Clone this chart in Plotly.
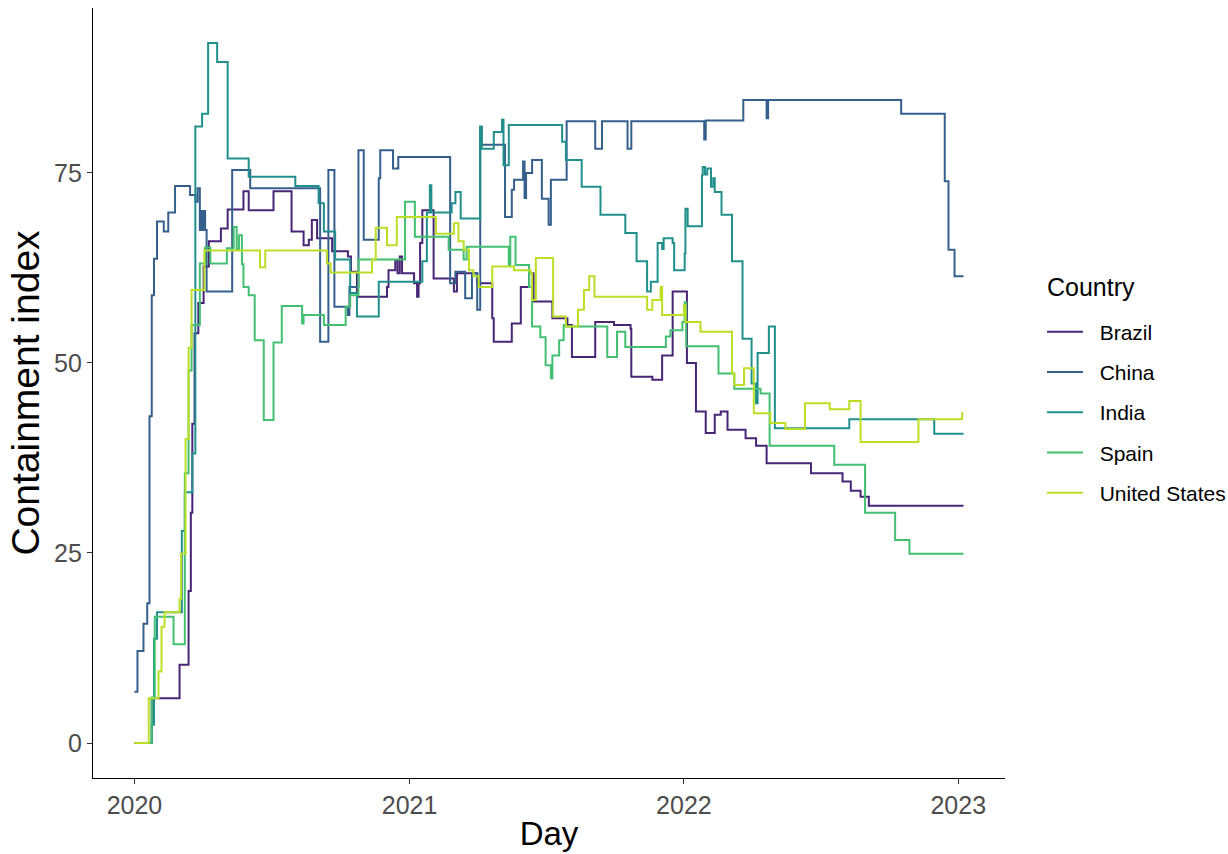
import pandas as pd
import plotly.graph_objects as go

START = pd.Timestamp("2020-01-01")

countries = ["Brazil", "China", "India", "Spain", "United States"]
colors = ["#482576", "#35608D", "#21908C", "#43BF71", "#BBDF27"]

# day offsets since 2020-01-01 where the index changes, and the new value
brazil_day = [0, 23, 60, 72, 75, 77, 80, 85, 92, 99, 115, 124, 145, 152, 185, 209, 225, 232, 236, 243,
              263, 284, 288, 296, 336, 338, 347, 350, 353, 356, 372, 376, 378, 380, 383, 398, 425, 429,
              456, 476, 478, 502, 514, 525, 531, 556, 576, 582, 613, 638, 660, 661, 689, 702, 716, 735,
              747, 760, 772, 780, 789, 813, 827, 841, 900, 942, 953, 966, 977, 1103]
brazil_val = [0, 5.9, 10.3, 20, 30.3, 42, 53.9, 57.9, 62.7, 66, 67.7, 70.2, 72.6, 70.1, 72.6, 67.3, 65.5,
              66.2, 68.8, 66.4, 64.7, 64, 62, 58.7, 60, 62.2, 63.5, 61.8, 64, 61.8, 60.5, 58.7, 60.5, 65.8,
              70.1, 61.1, 59.4, 61.8, 60.5, 55.9, 52.8, 55.2, 60, 61.8, 58.1, 55.9, 55, 50.8, 55.4, 55,
              54.5, 48.2, 47.8, 51, 59.4, 50, 43.6, 40.8, 43.2, 43.6, 41.2, 40.1, 39.1, 36.8, 35.5, 34.4,
              33.2, 32.4, 31.2, 31.2]

china_day = [0, 4, 12, 17, 20, 23, 26, 30, 39, 45, 54, 74, 81, 84, 87, 88, 90, 92, 94, 96, 130, 154,
             247, 258, 266, 284, 286, 298, 305, 325, 327, 344, 351, 420, 427, 440, 449, 456, 460, 462,
             493, 502, 505, 517, 519, 521, 529, 542, 551, 554, 575, 613, 622, 656, 661, 758, 760, 810,
             841, 843, 1020, 1078, 1083, 1091, 1103]
china_val = [6.75, 12.1, 15.7, 18.4, 43, 58.9, 63.7, 68.6, 67.3, 69.8, 73.3, 72.1, 71.2, 73, 67.5, 70,
             67.5, 70, 67.5, 59.4, 75.4, 73, 52.8, 75.4, 57.4, 56.3, 60, 78, 66.2, 74.3, 78, 75.6, 77.1,
             60.5, 62, 58.5, 61.8, 57, 81, 78.7, 69.2, 72.8, 74.1, 76.5, 71.7, 75, 76.7, 71.6, 68.2, 74.1,
             81.8, 78.2, 81.8, 78.2, 81.8, 79.4, 81.9, 84.6, 82.2, 84.6, 82.8, 73.9, 64.9, 61.4, 61.4]

india_day = [0, 23, 26, 30, 63, 67, 77, 81, 90, 98, 110, 124, 152, 214, 245, 252, 267, 287, 296, 325,
             383, 389, 393, 395, 422, 427, 434, 460, 462, 478, 489, 491, 498, 569, 574, 595, 620, 653,
             668, 682, 687, 696, 702, 704, 716, 718, 732, 733, 736, 755, 756, 759, 762, 767, 770, 772,
             781, 795, 809, 821, 827, 829, 844, 852, 951, 1064, 1103]
india_val = [0, 2.4, 13.7, 17.2, 27.9, 33, 38.1, 81.1, 82.8, 92.1, 89.6, 76.9, 74.5, 73.3, 71, 67.3, 63.6,
             59.2, 56.1, 60.7, 63.4, 69.8, 73.4, 69.8, 71, 72.5, 69, 81.1, 78.2, 80.4, 82, 76, 81.3, 79.1,
             76.7, 73.2, 69.5, 67.1, 63.4, 59.4, 60.7, 65.8, 65, 66.4, 65.8, 62.2, 64.4, 70.3, 68, 74.7,
             75.8, 74.8, 75.6, 73.2, 74.3, 72.5, 69.5, 63.4, 53.2, 47.3, 44.7, 51.3, 54.8, 41.4, 42.6,
             40.7, 40.7]

spain_day = [0, 23, 27, 52, 67, 72, 76, 87, 94, 101, 123, 132, 136, 139, 143, 145, 152, 160, 172, 185,
             196, 223, 225, 252, 281, 287, 298, 360, 373, 418, 438, 442, 498, 500, 507, 525, 529, 540,
             547, 554, 556, 565, 571, 574, 629, 642, 653, 707, 713, 729, 732, 734, 777, 798, 833, 845,
             931, 972, 1012, 1031, 1103]
spain_val = [0, 6, 16.6, 13, 35.5, 49, 55, 63.1, 65.2, 63.1, 65.1, 67.9, 65, 66.8, 63, 60, 58.9, 53,
             42.5, 52.7, 57.5, 55.2, 56.3, 55, 57.4, 58.9, 63.6, 71.2, 66.6, 64.9, 63.6, 65.3, 62.9, 66.6,
             62.9, 60, 54.8, 53.4, 49.7, 48, 51, 53, 55, 54.8, 50.8, 54.1, 52.1, 53.5, 54.3, 55.4, 58,
             52.2, 48.6, 46.6, 46, 39.1, 36.6, 30.3, 26.7, 24.9, 24.9]

us_day = [0, 19, 32, 36, 40, 60, 62, 68, 72, 76, 93, 167, 174, 256, 261, 316, 321, 336, 349, 401, 425,
          431, 438, 445, 451, 458, 476, 505, 527, 529, 534, 557, 574, 590, 598, 605, 612, 682, 689, 700,
          702, 731, 733, 753, 795, 798, 811, 824, 846, 866, 892, 925, 951, 966, 1043, 1101, 1103]
us_val = [0, 5.9, 9.4, 15.3, 17.2, 18.9, 24.9, 40, 52, 59.6, 64.8, 62.6, 64.8, 63.1, 61.9, 63.6, 67.8,
          65.5, 69.2, 67, 68.4, 66, 64.9, 62.2, 61.4, 60, 62.7, 62.2, 61.8, 58.3, 63.8, 56.1, 54.8, 57,
          59.6, 61.4, 58.7, 57, 58.3, 60, 56.3, 57.6, 55.4, 54.1, 48.6, 47.1, 49.3, 43.4, 42.1, 41.3,
          44.7, 43.9, 45, 39.6, 42.6, 43.4, 43.4]

series_days = [brazil_day, china_day, india_day, spain_day, us_day]
series_vals = [brazil_val, china_val, india_val, spain_val, us_val]

x_tick_years = ["2020", "2021", "2022", "2023"]
y_ticks = [0, 25, 50, 75]

FONT = "Liberation Sans, Arial, Helvetica, sans-serif"
PAD = "\u00a0\u00a0"

fig = go.Figure()
for name, col, d, v in zip(countries, colors, series_days, series_vals):
    dates = START + pd.to_timedelta(d, unit="D")
    fig.add_trace(go.Scatter(
        x=dates, y=v, mode="lines", name=PAD + name, legendgroup=name,
        line=dict(color=col, width=2, shape="hv"),
    ))

all_days = [x for d in series_days for x in d]
all_vals = [x for v in series_vals for x in v]
dspan = max(all_days) - min(all_days)
vspan = max(all_vals) - min(all_vals)
xr = [START + pd.Timedelta(days=min(all_days) - 0.05 * dspan),
      START + pd.Timedelta(days=max(all_days) + 0.05 * dspan)]
yr = [min(all_vals) - 0.05 * vspan, max(all_vals) + 0.05 * vspan]

fig.update_layout(
    width=1228, height=854,
    margin=dict(l=93, r=223, t=8, b=76),
    paper_bgcolor="white", plot_bgcolor="white",
    font=dict(family=FONT, color="black"),
    showlegend=True,
    legend=dict(
        font=dict(size=21, color="black"),
        xref="container", yref="container",
        x=0.8485, xanchor="left", y=0.517, yanchor="middle",
        tracegroupgap=10, itemwidth=36,
    ),
    annotations=[dict(
        text="Country", xref="paper", yref="paper",
        x=(1045 - 93) / 912, y=(778 - 287) / 770, xanchor="left", yanchor="middle",
        showarrow=False, font=dict(size=25, color="black"),
    )],
    xaxis=dict(
        range=xr, showgrid=False, zeroline=False, automargin=False,
        showline=True, linecolor="black", linewidth=1.3,
        ticks="outside", ticklen=5, tickwidth=1.2, tickcolor="#333333",
        tickvals=[pd.Timestamp(f"{y}-01-01") for y in x_tick_years],
        ticktext=x_tick_years,
        tickfont=dict(size=25, color="#4D4D4D"),
        title=dict(text="Day", font=dict(size=33, color="black"), standoff=3),
    ),
    yaxis=dict(
        range=yr, showgrid=False, zeroline=False, automargin=False,
        showline=True, linecolor="black", linewidth=1.3,
        ticks="outside", ticklen=5, tickwidth=1.2, tickcolor="#333333",
        tickvals=y_ticks, ticktext=[str(t) for t in y_ticks],
        tickfont=dict(size=25, color="#4D4D4D"),
        title=dict(text="Containment index", font=dict(size=39, color="black"), standoff=2),
    ),
)

fig.write_html("out.html", config={"displayModeBar": False},
               post_script="document.body.style.margin='0';")
